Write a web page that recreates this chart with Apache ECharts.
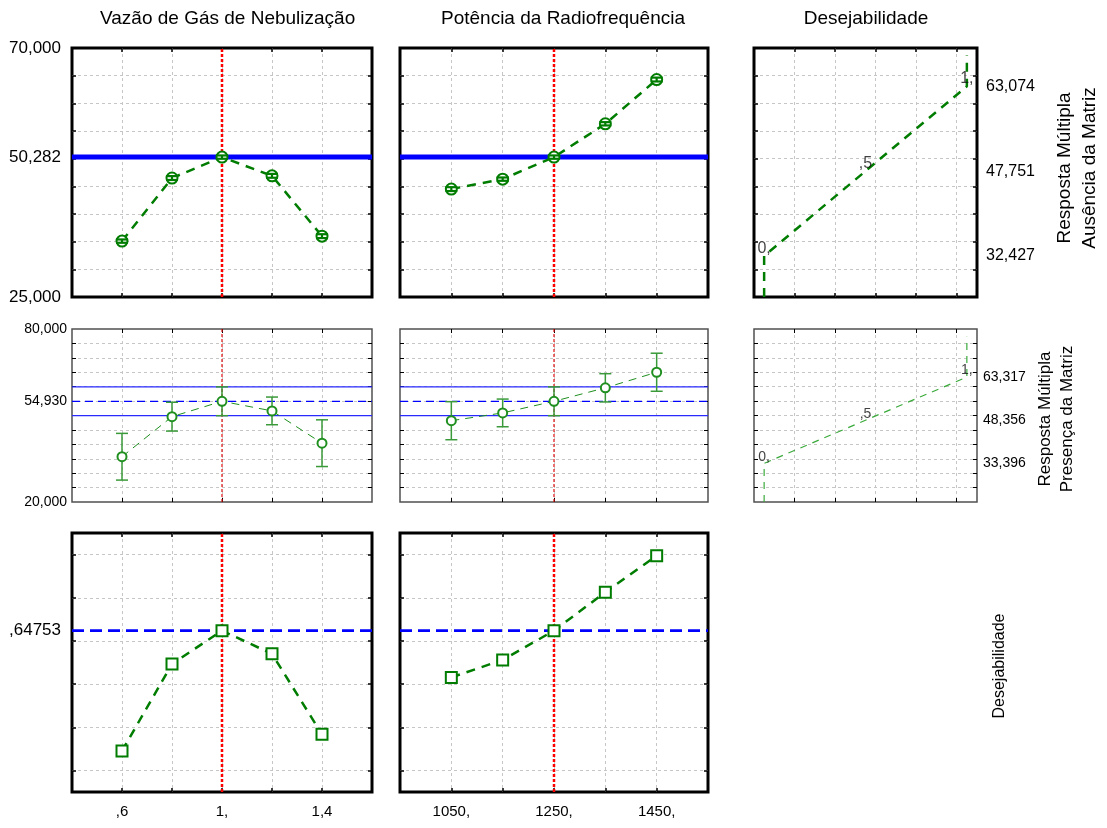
<!DOCTYPE html>
<html><head><meta charset="utf-8">
<script src="https://cdn.jsdelivr.net/npm/echarts@6/dist/echarts.min.js"></script>
<style>html,body{margin:0;padding:0;background:#fff}#c{width:1107px;height:828px}</style>
</head><body><div id="c"></div>
<script>
// ---------------- data ----------------
const xVazao = [0.6, 0.8, 1.0, 1.2, 1.4];
const xPotencia = [1050, 1150, 1250, 1350, 1450];
const ausVazao = [35.1, 46.5, 50.28, 46.9, 36.0];
const ausVazaoErr = [0.3, 0.35, 0.3, 0.35, 0.35];
const ausPotencia = [44.5, 46.3, 50.28, 56.3, 64.3];
const ausPotenciaErr = [0.35, 0.3, 0.3, 0.3, 0.35];
const presVazao = [35.7, 49.6, 54.93, 51.6, 40.4];
const presVazaoErr = [8.1, 5.0, 5.0, 4.8, 8.1];
const presPotencia = [48.2, 50.9, 54.93, 59.6, 65.0];
const presPotenciaErr = [6.6, 4.8, 5.0, 4.9, 6.6];
const desVazao = [0.09, 0.493, 0.6475, 0.54, 0.167];
const desPotencia = [0.431, 0.512, 0.6475, 0.826, 0.995];
const optVazao = 1.0;
const optPotencia = 1250;
const ausOpt = 50.282;
const presOpt = 54.930;
const presLow = 49.93;
const presHigh = 59.93;
const desOpt = 0.64753;
const desFnX = [0, 0, 1, 1];
const ausFnY = [25, 32.427, 63.074, 68.7];
const presFnY = [20, 33.396, 63.317, 77.3];
const desMarkX = [0, 0.5, 1];
const desMarkText = ['0,', ',5', '1,'];
const ausMarkY = [32.427, 47.751, 63.074];
const presMarkY = [33.396, 48.356, 63.317];
const ausLeftVals = [25, 50.282, 70];
const ausLeftText = ['25,000', '50,282', '70,000'];
const presLeftVals = [20, 54.93, 80];
const presLeftText = ['20,000', '54,930', '80,000'];
const desLeftVals = [0.64753];
const desLeftText = [',64753'];
const ausRightText = ['32,427', '47,751', '63,074'];
const presRightText = ['33,396', '48,356', '63,317'];
const vazaoLabelVals = [0.6, 1.0, 1.4];
const vazaoLabelText = [',6', '1,', '1,4'];
const potLabelVals = [1050, 1250, 1450];
const potLabelText = ['1050,', '1250,', '1450,'];
const colTitles = ['Vazão de Gás de Nebulização', 'Potência da Radiofrequência', 'Desejabilidade'];
const rowNames = ['Resposta Múltipla\nAusência da Matriz', 'Resposta Múltipla\nPresença da Matriz', 'Desejabilidade'];

// ---------------- layout ----------------
const FONT = 'Liberation Sans, Arial, sans-serif';
const cols = [{left: 72, width: 300}, {left: 400, width: 308}, {left: 754, width: 223}];
const rows = [{top: 48, height: 249}, {top: 329, height: 173}, {top: 533, height: 259}];
const panels = [[0,0],[0,1],[0,2],[1,0],[1,1],[1,2],[2,0],[2,1]];
const xCfg = [
  {min: 0.4, max: 1.6, grid: [0.6, 0.8, 1.0, 1.2, 1.4]},
  {min: 950, max: 1550, grid: [1050, 1150, 1250, 1350, 1450]},
  {min: -0.05, max: 1.05, grid: [0.15, 0.35, 0.55, 0.75, 0.95]}
];
const yCfg = [
  {min: 25, max: 70, grid: [30, 35, 40, 45, 50, 55, 60, 65]},
  {min: 20, max: 80, grid: [25, 30, 35, 40, 45, 50, 55, 60, 65, 70, 75]},
  {min: -0.1, max: 1.1, grid: [0, 0.2, 0.4, 0.6, 0.8, 1.0]}
];

function lookup(vals, texts) {
  return function (v) {
    for (let i = 0; i < vals.length; i++) if (Math.abs(vals[i] - v) < 1e-6) return texts[i];
    return '';
  };
}
function zip(a, b, c) { return a.map((v, i) => c ? [v, b[i], c[i]] : [v, b[i]]); }

const grids = [], xAxes = [], yAxes = [], series = [];
const noLine = {show: false, onZero: false};
panels.forEach(([r, c], i) => {
  const heavy = r !== 1;
  grids.push({left: cols[c].left, top: rows[r].top, width: cols[c].width, height: rows[r].height,
    show: true, borderColor: heavy ? '#000' : '#505050', borderWidth: heavy ? 3 : 1.5,
    backgroundColor: 'transparent', containLabel: false, outerBoundsMode: 'none'});
  const tick = {show: true, inside: true, length: 4, lineStyle: {color: '#000', width: heavy ? 1.5 : 1}};
  const xc = xCfg[c], yc = yCfg[r];
  let xLabel = {show: false};
  if (r === 2) {
    const lv = c === 0 ? vazaoLabelVals : potLabelVals;
    const lt = c === 0 ? vazaoLabelText : potLabelText;
    xLabel = {show: true, customValues: lv, formatter: lookup(lv, lt), fontSize: 15, color: '#000', margin: 12, fontFamily: FONT};
  }
  xAxes.push({type: 'value', gridIndex: i, min: xc.min, max: xc.max, position: 'bottom',
    axisLine: noLine, axisTick: Object.assign({customValues: xc.grid}, tick),
    splitLine: {show: true, lineStyle: {color: '#c6c6c6', type: [3, 3], width: 1}},
    axisLabel: xLabel});
  xAxes.push({type: 'value', gridIndex: i, min: xc.min, max: xc.max, position: 'top',
    axisLine: noLine, axisTick: Object.assign({customValues: xc.grid}, tick),
    splitLine: {show: false}, axisLabel: {show: false}});
  let yLabel = {show: false};
  if (c === 0) {
    const lv = [ausLeftVals, presLeftVals, desLeftVals][r];
    const lt = [ausLeftText, presLeftText, desLeftText][r];
    yLabel = {show: true, customValues: lv, formatter: lookup(lv, lt), fontSize: r === 1 ? 14 : 17,
      color: '#000', margin: r === 1 ? 5 : 11, fontFamily: FONT};
  }
  yAxes.push({type: 'value', gridIndex: i, min: yc.min, max: yc.max, position: 'left',
    axisLine: noLine, axisTick: Object.assign({customValues: yc.grid}, tick),
    splitLine: {show: true, lineStyle: {color: '#c6c6c6', type: [3, 3], width: 1}},
    axisLabel: yLabel});
  let yrLabel = {show: false};
  if (c === 2) {
    const lv = r === 0 ? ausMarkY : presMarkY;
    const lt = r === 0 ? ausRightText : presRightText;
    yrLabel = {show: true, customValues: lv, formatter: lookup(lv, lt), fontSize: r === 0 ? 16 : 14,
      color: '#000', margin: r === 0 ? 9 : 6, fontFamily: FONT};
  }
  yAxes.push({type: 'value', gridIndex: i, min: yc.min, max: yc.max, position: 'right',
    axisLine: noLine, axisTick: Object.assign({customValues: yc.grid}, tick),
    splitLine: {show: false}, axisLabel: yrLabel});
});

function errRender(capHalf, lw, color) {
  return function (params, api) {
    const x = api.value(0), y = api.value(1), e = api.value(2);
    const t = api.coord([x, y + e]), b = api.coord([x, y - e]);
    const st = {stroke: color, lineWidth: lw};
    return {type: 'group', children: [
      {type: 'line', shape: {x1: t[0], y1: t[1], x2: b[0], y2: b[1]}, style: st},
      {type: 'line', shape: {x1: t[0] - capHalf, y1: t[1], x2: t[0] + capHalf, y2: t[1]}, style: st},
      {type: 'line', shape: {x1: b[0] - capHalf, y1: b[1], x2: b[0] + capHalf, y2: b[1]}, style: st}
    ]};
  };
}
function refLine(i, data, color, width, type, z) {
  series.push({type: 'line', xAxisIndex: 2 * i, yAxisIndex: 2 * i, data: data, symbol: 'none', silent: true,
    lineStyle: {color: color, width: width, type: type}, z: z, animation: false});
}
function hLine(i, c, r, v, color, width, type, z) { refLine(i, [[xCfg[c].min, v], [xCfg[c].max, v]], color, width, type, z); }
function vLine(i, c, r, v, color, width, type, z) { refLine(i, [[v, yCfg[r].min], [v, yCfg[r].max]], color, width, type, z); }

const G = '#007d00';
// Row 1 : Ausência da Matriz
[[0, xVazao, ausVazao, ausVazaoErr, optVazao], [1, xPotencia, ausPotencia, ausPotenciaErr, optPotencia]].forEach(([c, xs, ys, es, opt]) => {
  const i = c;
  hLine(i, c, 0, ausOpt, '#0000ff', 5, 'solid', 2);
  vLine(i, c, 0, opt, '#ff0000', 2.5, [3, 2], 3);
  series.push({type: 'line', xAxisIndex: 2 * i, yAxisIndex: 2 * i, data: zip(xs, ys), symbol: 'emptyCircle', symbolSize: 11,
    lineStyle: {color: G, width: 2.5, type: [9, 7]}, itemStyle: {color: G, borderWidth: 1.2}, z: 4, animation: false});
  series.push({type: 'custom', xAxisIndex: 2 * i, yAxisIndex: 2 * i, data: zip(xs, ys, es), encode: {x: 0, y: 1},
    renderItem: errRender(6, 2.2, G), z: 5, animation: false});
});
// Row 2 : Presença da Matriz
const G2 = '#1f8f1f';
[[0, xVazao, presVazao, presVazaoErr, optVazao], [1, xPotencia, presPotencia, presPotenciaErr, optPotencia]].forEach(([c, xs, ys, es, opt]) => {
  const i = 3 + c;
  hLine(i, c, 1, presLow, '#2a2aff', 1.3, 'solid', 2);
  hLine(i, c, 1, presHigh, '#2a2aff', 1.3, 'solid', 2);
  hLine(i, c, 1, presOpt, '#0000ff', 1.3, [8, 5], 2);
  vLine(i, c, 1, opt, '#e01010', 1.2, [3, 2], 3);
  series.push({type: 'line', xAxisIndex: 2 * i, yAxisIndex: 2 * i, data: zip(xs, ys), symbol: 'emptyCircle', symbolSize: 9,
    lineStyle: {color: G2, width: 1, type: [8, 6]}, itemStyle: {color: G2, borderWidth: 1.2}, z: 6, animation: false});
  series.push({type: 'custom', xAxisIndex: 2 * i, yAxisIndex: 2 * i, data: zip(xs, ys, es), encode: {x: 0, y: 1},
    renderItem: errRender(6, 1.5, '#3a9a3a'), z: 5, animation: false});
});
// Row 3 : Desejabilidade
[[0, xVazao, desVazao, optVazao], [1, xPotencia, desPotencia, optPotencia]].forEach(([c, xs, ys, opt]) => {
  const i = 6 + c;
  hLine(i, c, 2, desOpt, '#0000ff', 2.6, [12, 6], 2);
  vLine(i, c, 2, opt, '#ff0000', 2.5, [3, 2], 3);
  series.push({type: 'line', xAxisIndex: 2 * i, yAxisIndex: 2 * i, data: zip(xs, ys), symbol: 'emptyRect', symbolSize: 11,
    lineStyle: {color: G, width: 2.5, type: [9, 7]}, itemStyle: {color: G, borderWidth: 1.2}, z: 4, animation: false});
});
// Desirability functions (column 3)
[[2, ausFnY, ausMarkY, G, 2.5, [9, 7], 16], [5, presFnY, presMarkY, '#3aaa3a', 1.2, [7, 6], 14]].forEach(([i, fy, my, col, w, dash, fs]) => {
  series.push({type: 'line', xAxisIndex: 2 * i, yAxisIndex: 2 * i, data: zip(desFnX, fy), symbol: 'none',
    lineStyle: {color: col, width: w, type: dash}, z: 4, animation: false});
  series.push({type: 'scatter', xAxisIndex: 2 * i, yAxisIndex: 2 * i, data: zip(desMarkX, my), symbolSize: 1,
    itemStyle: {color: 'rgba(0,0,0,0)'}, silent: true, z: 6, animation: false,
    label: {show: true, position: 'top', distance: -1, formatter: p => desMarkText[p.dataIndex], color: '#111', fontSize: fs, fontFamily: FONT}});
});

// ---------------- text ----------------
const graphics = [
  {type: 'text', x: 100, y: 19, style: {text: colTitles[0], font: '19px ' + FONT, fill: '#000', verticalAlign: 'middle', width: 258, overflow: 'truncate', ellipsis: ''}},
  {type: 'text', x: 441, y: 19, style: {text: colTitles[1], font: '19px ' + FONT, fill: '#000', verticalAlign: 'middle', width: 252, overflow: 'truncate', ellipsis: ''}},
  {type: 'text', x: 866, y: 19, style: {text: colTitles[2], font: '19px ' + FONT, fill: '#000', align: 'center', verticalAlign: 'middle'}},
  {type: 'text', x: 1077, y: 168, rotation: Math.PI / 2, style: {text: rowNames[0], font: '19px ' + FONT, lineHeight: 25, fill: '#000', align: 'center', verticalAlign: 'middle'}},
  {type: 'text', x: 1056, y: 419, rotation: Math.PI / 2, style: {text: rowNames[1], font: '17px ' + FONT, lineHeight: 22, fill: '#000', align: 'center', verticalAlign: 'middle'}},
  {type: 'text', x: 1000, y: 666, rotation: Math.PI / 2, style: {text: rowNames[2], font: '16px ' + FONT, fill: '#000', align: 'center', verticalAlign: 'middle'}}
];

const chart = echarts.init(document.getElementById('c'), null, {renderer: 'canvas'});
chart.setOption({
  animation: false,
  backgroundColor: '#fff',
  textStyle: {fontFamily: FONT},
  grid: grids, xAxis: xAxes, yAxis: yAxes, series: series, graphic: graphics
});
</script>
</body></html>
